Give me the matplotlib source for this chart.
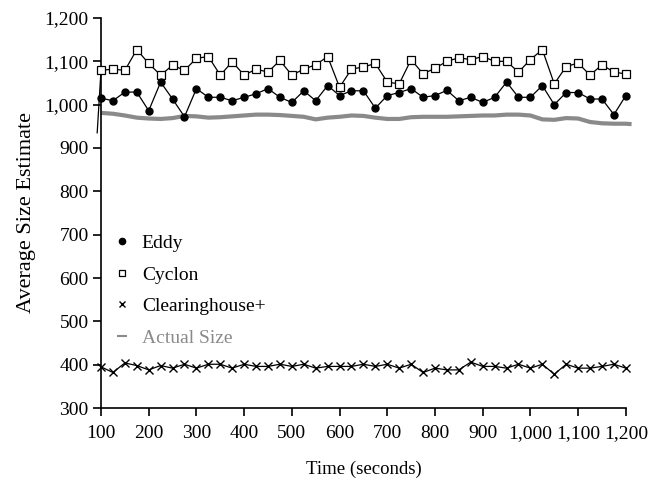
import numpy as np
import matplotlib
matplotlib.use('Agg')
import matplotlib.pyplot as plt
from matplotlib.ticker import StrMethodFormatter, MultipleLocator
from matplotlib.lines import Line2D

plt.rcParams['font.family'] = ['Liberation Serif', 'DejaVu Serif']

# sample times (seconds), one point every 25 s
times = np.arange(100, 1201, 25)

eddy = [1015, 1009, 1029, 1029, 986, 1052, 1013, 972, 1037, 1017,
        1017, 1009, 1017, 1025, 1037, 1017, 1005, 1032, 1009, 1044,
        1021, 1032, 1032, 992, 1021, 1028, 1037, 1017, 1021, 1033,
        1009, 1017, 1005, 1017, 1052, 1017, 1017, 1044, 1000, 1028,
        1028, 1013, 1013, 977, 1021]

cyclon = [1079, 1082, 1079, 1127, 1095, 1068, 1091, 1079, 1107, 1111,
          1068, 1099, 1068, 1082, 1075, 1102, 1068, 1082, 1092, 1111,
          1040, 1082, 1087, 1095, 1052, 1048, 1104, 1071, 1084, 1100,
          1108, 1104, 1111, 1100, 1100, 1075, 1104, 1127, 1048, 1088,
          1096, 1068, 1092, 1075, 1071]
# the cyclon curve starts just left of the axis
cyclon_start = (92, 935)

clearing = [395, 382, 404, 398, 388, 398, 392, 401, 392, 401,
            401, 392, 401, 396, 396, 401, 396, 401, 392, 396,
            396, 396, 401, 396, 401, 392, 401, 382, 392, 388,
            388, 406, 396, 396, 392, 401, 392, 401, 378, 401,
            392, 392, 396, 401, 392]

actual_t = [100, 125, 150, 175, 200, 225, 250, 275, 300, 325, 350, 375,
            400, 425, 450, 475, 500, 525, 550, 575, 600, 625, 650, 675,
            700, 725, 750, 775, 800, 825, 850, 875, 900, 925, 950, 975,
            1000, 1025, 1050, 1075, 1100, 1125, 1150, 1175, 1200, 1212]
actual = [981, 979, 975, 970, 968, 967, 969, 974, 973, 970, 971, 973,
          975, 977, 977, 976, 974, 972, 966, 970, 972, 975, 974, 970,
          967, 967, 971, 972, 972, 972, 973, 974, 975, 975, 977, 977,
          975, 966, 965, 969, 968, 960, 957, 956, 956, 955]

fig = plt.figure(figsize=(6.61, 4.78), dpi=100)
ax = fig.add_axes([0.1528, 0.1464, 0.794, 0.816])

ax.plot(actual_t, actual, color='#8a8a8a', linewidth=3.0, clip_on=False,
        solid_capstyle='butt', zorder=2)

ax.plot([cyclon_start[0]] + list(times), [cyclon_start[1]] + cyclon,
        color='black', linewidth=0.9, marker='s', markersize=5.5,
        markerfacecolor='white', markeredgecolor='black', markeredgewidth=0.9,
        markevery=list(range(1, len(times) + 1)), clip_on=False, zorder=3)
ax.plot(times, eddy, color='black', linewidth=0.9, marker='o', markersize=5,
        clip_on=False, zorder=4)
ax.plot(times, clearing, color='black', linewidth=0.9, marker='x',
        markersize=5.5, markeredgewidth=1.0, clip_on=False, zorder=3)

ax.set_xlim(100, 1200)
ax.set_ylim(300, 1200)
ax.xaxis.set_major_locator(MultipleLocator(100))
ax.yaxis.set_major_locator(MultipleLocator(100))
ax.xaxis.set_major_formatter(StrMethodFormatter('{x:,.0f}'))
ax.yaxis.set_major_formatter(StrMethodFormatter('{x:,.0f}'))

for s in ['top', 'right']:
    ax.spines[s].set_visible(False)
for s in ['left', 'bottom']:
    ax.spines[s].set_linewidth(1.2)
ax.tick_params(direction='out', length=6, width=1.2, labelsize=14)
ax.tick_params(axis='x', pad=6)
ax.tick_params(axis='y', pad=3)

ax.set_xlabel('Time (seconds)', fontsize=13.5, labelpad=14)
ax.set_ylabel('Average Size Estimate', fontsize=16, labelpad=6)

handles = [
    Line2D([], [], linestyle='', marker='o', color='black', markersize=4.5),
    Line2D([], [], linestyle='', marker='s', markerfacecolor='white',
           markeredgecolor='black', markersize=5, markeredgewidth=0.9),
    Line2D([], [], linestyle='', marker='x', color='black', markersize=5,
           markeredgewidth=1.0),
    Line2D([], [], linestyle='', marker='_', color='#8a8a8a', markersize=7,
           markeredgewidth=1.5),
]
leg = ax.legend(handles, ['Eddy', 'Cyclon', 'Clearinghouse+', 'Actual Size'],
                loc='upper left', bbox_to_anchor=(0.0, 0.48), frameon=False,
                fontsize=14, handlelength=0.8, handletextpad=0.6,
                labelspacing=0.72, borderaxespad=0.3)
leg.get_texts()[3].set_color('#8a8a8a')

fig.savefig('out.png', dpi=100)
